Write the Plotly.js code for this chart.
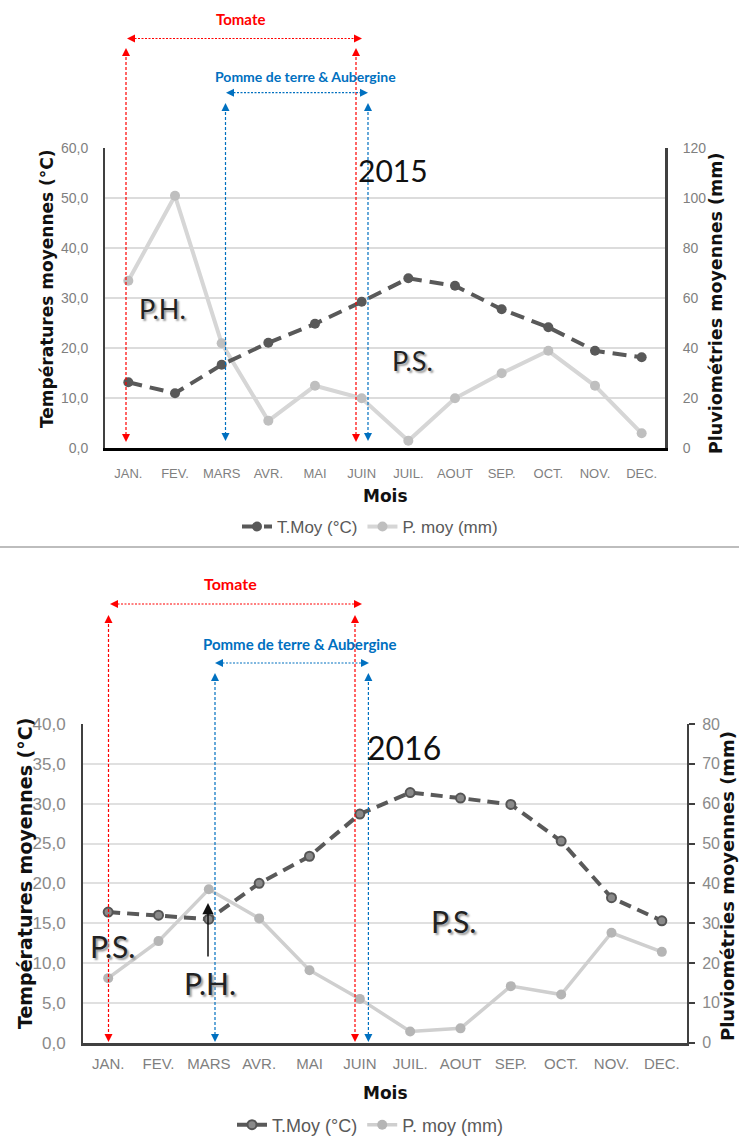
<!DOCTYPE html>
<html>
<head>
<meta charset="utf-8">
<script src="https://cdn.plot.ly/plotly-3.0.1.min.js"></script>
<style>html,body{margin:0;padding:0;background:#fff;} #chart{width:739px;height:1139px;}</style>
</head>
<body>
<div id="chart"></div>
<script>
// ---- data ----
const months = ['JAN.','FEV.','MARS','AVR.','MAI','JUIN','JUIL.','AOUT','SEP.','OCT.','NOV.','DEC.'];
const temp2015 = [13.2, 11.0, 16.7, 21.1, 24.9, 29.3, 34.0, 32.5, 27.8, 24.2, 19.5, 18.2];
const rain2015 = [67, 101, 42, 11, 25, 20, 3, 20, 30, 39, 25, 6];
const temp2016 = [16.4, 16.0, 15.5, 20.0, 23.4, 28.7, 31.4, 30.7, 29.9, 25.3, 18.2, 15.3];
const rain2016 = [16.2, 25.5, 38.5, 31.2, 18.2, 11.0, 2.8, 3.6, 14.2, 12.1, 27.6, 22.8];
const tempTicks2015 = [0, 10, 20, 30, 40, 50, 60];
const tempTickText2015 = ['0,0', '10,0', '20,0', '30,0', '40,0', '50,0', '60,0'];
const rainTicks2015 = [0, 20, 40, 60, 80, 100, 120];
const tempTicks2016 = [0, 5, 10, 15, 20, 25, 30, 35, 40];
const tempTickText2016 = ['0,0', '5,0', '10,0', '15,0', '20,0', '25,0', '30,0', '35,0', '40,0'];
const rainTicks2016 = [0, 10, 20, 30, 40, 50, 60, 70, 80];
const seriesNames = ['T.Moy (°C)', 'P. moy (mm)'];

// ---- helpers (pixel -> paper) ----
const W = 739, H = 1139;
const X = v => v / W;
const Y = v => 1 - v / H;
const RED = '#ff0000', BLUE = '#0070c0';
const TICKFONT = 'Liberation Sans, Arial, sans-serif';
const BOLDFONT = 'DejaVu Sans, sans-serif';
const CAL = 'Lato, Carlito, Calibri, sans-serif';

const traces = [
  {x: months, y: temp2015, name: seriesNames[0], xaxis: 'x', yaxis: 'y2', mode: 'lines+markers',
   line: {color: '#595959', width: 4, dash: '14px,8px'}, marker: {color: '#595959', size: 10}, legend: 'legend'},
  {x: months, y: rain2015, name: seriesNames[1], xaxis: 'x', yaxis: 'y', mode: 'lines+markers',
   line: {color: '#d6d6d6', width: 4}, marker: {color: '#bfbfbf', size: 10}, legend: 'legend'},
  {x: months, y: temp2016, name: seriesNames[0], xaxis: 'x2', yaxis: 'y4', mode: 'lines+markers',
   line: {color: '#595959', width: 4, dash: '12px,7px'}, marker: {color: '#8a8a8a', size: 9, line: {color: '#555555', width: 2}}, legend: 'legend2'},
  {x: months, y: rain2016, name: seriesNames[1], xaxis: 'x2', yaxis: 'y3', mode: 'lines+markers',
   line: {color: '#cfcfcf', width: 3.5}, marker: {color: '#b5b5b5', size: 10}, legend: 'legend2'}
];

function xAxis(dom, anchor, lw, lc, fs, standoff) {
  return {domain: dom, anchor: anchor, type: 'category', range: [-0.5, 11.5], showgrid: false,
    showline: true, linecolor: lc, linewidth: lw, ticks: '', zeroline: false, fixedrange: true,
    tickfont: {family: TICKFONT, size: fs, color: '#7f7f7f'}, ticklabelstandoff: standoff, automargin: false};
}

const layout = {
  width: W, height: H, margin: {l: 0, r: 0, t: 0, b: 0, autoexpand: false},
  paper_bgcolor: '#ffffff', plot_bgcolor: '#ffffff', showlegend: true,
  xaxis: xAxis([X(105), X(665)], 'y', 3, '#000000', 13, 11),
  yaxis: {domain: [Y(448.3), Y(148.3)], anchor: 'x', side: 'right', range: [0, 120],
    tickvals: rainTicks2015, ticktext: rainTicks2015.map(String), showgrid: true, gridcolor: '#dcdcdc', gridwidth: 2,
    showline: true, linecolor: '#404040', linewidth: 3, zeroline: false, ticks: '',
    tickfont: {family: TICKFONT, size: 14, color: '#7f7f7f'}, ticklabelstandoff: 12, automargin: false},
  yaxis2: {overlaying: 'y', anchor: 'x', side: 'left', range: [0, 60],
    tickvals: tempTicks2015, ticktext: tempTickText2015, showgrid: false,
    showline: true, linecolor: '#404040', linewidth: 2, zeroline: false, ticks: '',
    tickfont: {family: TICKFONT, size: 14, color: '#7f7f7f'}, ticklabelstandoff: 12, automargin: false},
  xaxis2: xAxis([X(83), X(687)], 'y3', 3, '#404040', 15, 5),
  yaxis3: {domain: [Y(1042.7), Y(724)], anchor: 'x2', side: 'right', range: [0, 80],
    tickvals: rainTicks2016, ticktext: rainTicks2016.map(String), showgrid: true, gridcolor: '#e0e0e0', gridwidth: 2,
    showline: true, linecolor: '#404040', linewidth: 2, zeroline: false, ticks: 'outside', ticklen: 6, tickcolor: '#404040', tickwidth: 2,
    tickfont: {family: TICKFONT, size: 16, color: '#8a8a8a'}, ticklabelstandoff: 4, automargin: false},
  yaxis4: {overlaying: 'y3', anchor: 'x2', side: 'left', range: [0, 40],
    tickvals: tempTicks2016, ticktext: tempTickText2016, showgrid: false,
    showline: true, linecolor: '#404040', linewidth: 2, zeroline: false, ticks: '',
    tickfont: {family: TICKFONT, size: 17, color: '#8a8a8a'}, ticklabelstandoff: 12, automargin: false},
  legend: {orientation: 'h', x: X(370), xanchor: 'center', y: Y(527), yanchor: 'middle',
    font: {family: TICKFONT, size: 17, color: '#595959'}, bgcolor: 'rgba(0,0,0,0)'},
  legend2: {orientation: 'h', x: X(370), xanchor: 'center', y: Y(1125), yanchor: 'middle',
    font: {family: TICKFONT, size: 18, color: '#595959'}, bgcolor: 'rgba(0,0,0,0)'},
  shapes: [],
  annotations: []
};

function dline(x0, y0, x1, y1, color, dash) {
  layout.shapes.push({type: 'line', xref: 'paper', yref: 'paper', x0: X(x0), y0: Y(y0), x1: X(x1), y1: Y(y1),
    line: {color: color, width: 1.2, dash: dash}});
}
function head(x, y, ax, ay, color) {
  layout.annotations.push({xref: 'paper', yref: 'paper', x: X(x), y: Y(y), ax: ax, ay: ay, text: '',
    showarrow: true, arrowhead: 2, arrowsize: 1.6, arrowwidth: 1, arrowcolor: color});
}
function vArrow(x, top, bottom, color) {
  dline(x, top + 4, x, bottom - 4, color, '3px,2px');
  head(x, top, 0, 8, color);
  head(x, bottom, 0, -8, color);
}
function hArrow(y, left, right, color) {
  dline(left + 4, y, right - 4, y, color, '2px,1.5px');
  head(left, y, 8, 0, color);
  head(right, y, -8, 0, color);
}
function text(t, x, y, size, color, family, opts) {
  layout.annotations.push(Object.assign({xref: 'paper', yref: 'paper', x: X(x), y: Y(y), text: t, showarrow: false,
    xanchor: 'center', yanchor: 'middle', font: {family: family, size: size, color: color}}, opts || {}));
}

// ---- chart 2015 ----
text('<b>Tomate</b>', 240, 19, 15, RED, CAL);
hArrow(38.5, 127, 362, RED);
vArrow(126, 48, 442, RED);
vArrow(356, 48, 442, RED);
text('<b>Pomme de terre &amp; Aubergine</b>', 305, 76, 14, BLUE, CAL);
hArrow(92.7, 226, 368, BLUE);
vArrow(225.5, 103, 441, BLUE);
vArrow(368, 103, 441, BLUE);
text('2015', 393, 170, 30, '#111111', CAL);
text('P.H.', 162, 308, 27, '#222222', CAL, {font: {family: CAL, size: 27, color: '#222222', shadow: '2px 2px 2px #9a9a9a'}});
text('P.S.', 412, 360, 27, '#222222', CAL, {font: {family: CAL, size: 27, color: '#222222', shadow: '2px 2px 2px #9a9a9a'}});
text('<b>Températures moyennes (°C)</b>', 47, 289, 17, '#111111', BOLDFONT, {textangle: -90});
text('<b>Pluviométries moyennes (mm)</b>', 716, 304, 17.5, '#111111', BOLDFONT, {textangle: -90});
text('<b>Mois</b>', 385, 496, 17, '#111111', BOLDFONT);

// divider
layout.shapes.push({type: 'line', xref: 'paper', yref: 'paper', x0: 0, x1: 1, y0: Y(547), y1: Y(547),
  line: {color: '#bdbdbd', width: 2}});

// ---- chart 2016 ----
text('<b>Tomate</b>', 230, 583, 16, RED, CAL);
hArrow(604, 110, 362, RED);
vArrow(108.5, 615, 1042, RED);
vArrow(355, 615, 1042, RED);
text('<b>Pomme de terre &amp; Aubergine</b>', 300, 644, 15, BLUE, CAL);
hArrow(663, 215, 369, BLUE);
vArrow(215, 673, 1042, BLUE);
vArrow(368.4, 673, 1042, BLUE);
text('2016', 404, 747, 32, '#111111', CAL);
const sh = {family: CAL, size: 30, color: '#222222', shadow: '2px 2px 2px #9a9a9a'};
text('P.S.', 112, 946, 30, '#222222', CAL, {font: sh});
text('P.H.', 210, 983, 30, '#222222', CAL, {font: sh});
text('P.S.', 453, 921, 30, '#222222', CAL, {font: sh});
layout.annotations.push({xref: 'paper', yref: 'paper', x: X(208), y: Y(903), ax: 0, ay: 55, text: '',
  showarrow: true, arrowhead: 2, arrowsize: 1.5, arrowwidth: 1.5, arrowcolor: '#111111'});
text('<b>Températures moyennes (°C)</b>', 25, 874, 19, '#111111', BOLDFONT, {textangle: -90});
text('<b>Pluviométries moyennes (mm)</b>', 727, 886, 18, '#111111', BOLDFONT, {textangle: -90});
text('<b>Mois</b>', 385, 1093, 17, '#111111', BOLDFONT);

Plotly.newPlot('chart', traces, layout, {staticPlot: true, displayModeBar: false});
</script>
</body>
</html>
